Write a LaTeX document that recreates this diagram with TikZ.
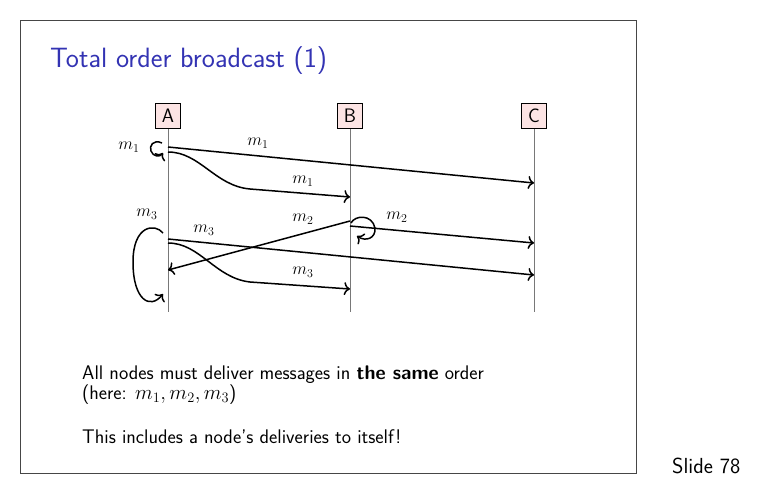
\documentclass[tikz,border=0pt]{standalone}
\usepackage{fontspec}
\usetikzlibrary{arrows.meta}
\definecolor{titleblue}{RGB}{51,51,179}
\definecolor{boxpink}{RGB}{252,228,228}
\definecolor{lifegray}{RGB}{120,120,120}
\definecolor{framegray}{RGB}{70,70,70}
\newcommand\tightlines{\lineskiplimit=-30pt\relax\lineskip=0pt\relax}
\begin{document}
\begin{tikzpicture}[x=1pt,y=-1pt,
  proc/.style={draw=black,line width=0.6pt,fill=boxpink,minimum width=25pt,minimum height=25pt,inner sep=0pt,font=\fontsize{19.5}{22}\selectfont\sffamily},
  life/.style={draw=lifegray,line width=0.7pt},
  msg/.style={-{To[length=6pt,width=13pt]},line width=1.5pt},
  lbl/.style={font=\fontsize{17}{20}\selectfont,inner sep=0pt},
  body/.style={anchor=base west,inner sep=0pt,align=left,font=\fontsize{19.7}{19.5}\selectfont\sffamily\tightlines}]
\useasboundingbox (0,0) rectangle (767,495);
\draw[framegray,line width=0.8pt] (20,20) rectangle (636,473);
\node[anchor=base west,inner sep=0pt,text=titleblue,font=\fontsize{27.9}{32}\selectfont\sffamily] (title) at (50,67) {Total order broadcast (1)};
\node[anchor=base west,inner sep=0pt,font=\fontsize{21.8}{25}\selectfont\sffamily] (slide) at (672,473) {Slide 78};
% processes
\node[proc] (A) at (168,116) {A};
\node[proc] (B) at (350,116) {B};
\node[proc] (C) at (534,116) {C};
\coordinate (Ae) at (168,312);
\coordinate (Be) at (350,312);
\coordinate (Ce) at (534,312);
\draw[life] (A.south) -- (Ae);
\draw[life] (B.south) -- (Be);
\draw[life] (C.south) -- (Ce);
% message endpoints
\coordinate (a1) at (168,147); \coordinate (c1) at (534,183);
\coordinate (a1b) at (168,152); \coordinate (b1) at (350,197);
\coordinate (b2) at (350,221); \coordinate (a2) at (168,270);
\coordinate (b2c) at (350,226); \coordinate (c2) at (534,243);
\coordinate (a3) at (168,239); \coordinate (c3) at (534,275);
\coordinate (a3b) at (168,243); \coordinate (b3) at (350,289);
\coordinate (l1s) at (162,143); \coordinate (l1e) at (163,153);
\coordinate (l2s) at (351,223); \coordinate (l2e) at (357,236);
\coordinate (l3s) at (163,233); \coordinate (l3e) at (163,294);
% m1
\draw[msg] (l1s) .. controls (153,139) and (149,146) .. (151,151) .. controls (153,157) and (160,157) .. (l1e);
\draw[msg] (a1) -- (c1);
\draw[msg] (a1b) .. controls (200,152) and (215,186) .. (250,189) -- (b1);
% m2
\draw[msg] (b2) -- (a2);
\draw[msg] (l2s) .. controls (355,215) and (372,214) .. (375,228) .. controls (376,238) and (366,242) .. (l2e);
\draw[msg] (b2c) -- (c2);
% m3
\draw[msg] (l3s) .. controls (155,223) and (133,225) .. (133,262) .. controls (133,300) and (150,310) .. (l3e);
\draw[msg] (a3) -- (c3);
\draw[msg] (a3b) .. controls (200,243) and (215,278) .. (250,282) -- (b3);
% labels
\node[lbl] (t1) at (129,147) {$m_1$};
\node[lbl] (t2) at (258,143) {$m_1$};
\node[lbl] (t3) at (303,181) {$m_1$};
\node[lbl] (t4) at (147,214) {$m_3$};
\node[lbl] (t5) at (204,230) {$m_3$};
\node[lbl] (t6) at (303,219) {$m_2$};
\node[lbl] (t7) at (303,272) {$m_3$};
\node[lbl] (t8) at (397,217) {$m_2$};
% body text
\node[body] (p1) at (82,399) {All nodes must deliver messages in \textbf{the same} order\\(here: $m_1, m_2, m_3$)};
\node[body] (p3) at (82,443) {This includes a node's deliveries to itself!};
\end{tikzpicture}
\end{document}
